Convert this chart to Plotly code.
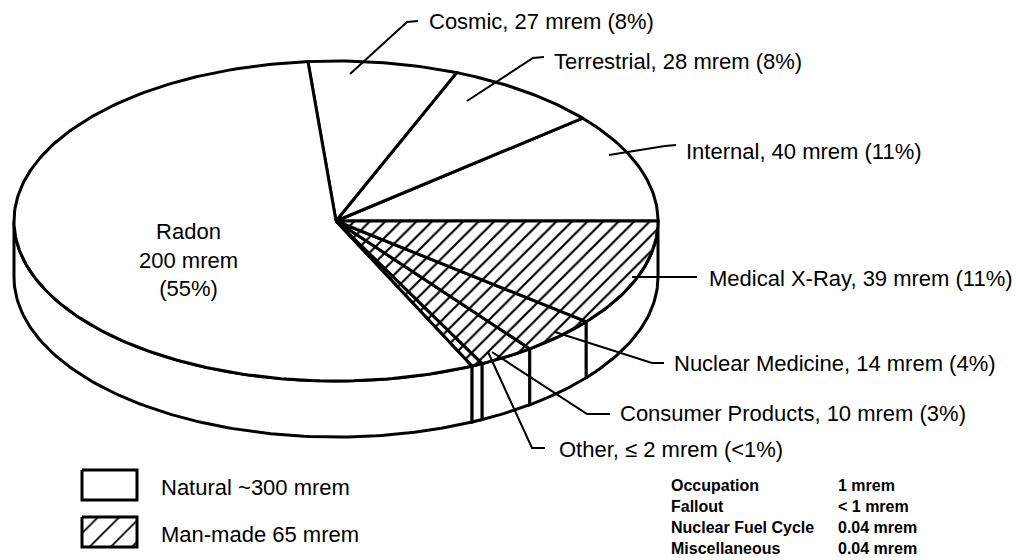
import numpy as np
import plotly.graph_objects as go

# ---------------- data ----------------
sources = ["Internal", "Terrestrial", "Cosmic", "Radon", "Other",
           "Consumer Products", "Nuclear Medicine", "Medical X-Ray"]
doses = [40, 28, 27, 200, 2, 10, 14, 39]          # mrem
origin = ["Natural", "Natural", "Natural", "Natural",
          "Man-made", "Man-made", "Man-made", "Man-made"]
slice_labels = ["Internal, 40 mrem (11%)", "Terrestrial, 28 mrem (8%)",
                "Cosmic, 27 mrem (8%)", "Radon<br>200 mrem<br>(55%)",
                "Other, \u2264 2 mrem (<1%)", "Consumer Products, 10 mrem (3%)",
                "Nuclear Medicine, 14 mrem (4%)", "Medical X-Ray, 39 mrem (11%)"]
legend_labels = ["Natural ~300 mrem", "Man-made 65 mrem"]
minor_sources = ["Occupation", "Fallout", "Nuclear Fuel Cycle", "Miscellaneous"]
minor_doses = ["1 mrem", "< 1 mrem", "0.04 mrem", "0.04 mrem"]

# ---------------- geometry / style ----------------
W, H = 1016, 560
CX, CY, RX, RY, DEPTH = 336, 221, 322, 160, 56
EDGE = 3
FONT = "Liberation Sans, Arial, Helvetica, sans-serif"
HATCH = dict(shape="/", fgcolor="black", bgcolor="white", fgopacity=1,
             fillmode="replace", size=11, solidity=0.2)

total = sum(doses)
ends = np.cumsum(doses) / total * 360.0
starts = ends - np.array(doses) / total * 360.0


def rim(t0, t1, dy=0.0, n=None):
    n = n or max(int(abs(t1 - t0)) + 2, 3)
    t = np.radians(np.linspace(t0, t1, n))
    return CX + RX * np.cos(t), CY - RY * np.sin(t) + dy


fig = go.Figure()

# side walls (front half of the cylinder, t in [180, 360])
for s, e in zip(starts, ends):
    a, b = max(s, 180.0), min(e, 360.0)
    if b <= a:
        continue
    xt, yt = rim(a, b)
    xb, yb = rim(b, a, DEPTH)
    fig.add_trace(go.Scatter(
        x=np.concatenate([xt, xb, xt[:1]]), y=np.concatenate([yt, yb, yt[:1]]),
        mode="lines", fill="toself", fillcolor="white",
        line=dict(color="black", width=EDGE), hoverinfo="skip", showlegend=False))

# top faces
for name, s, e, kind in zip(sources, starts, ends, origin):
    xa, ya = rim(s, e)
    xs = np.concatenate([[CX], xa, [CX]])
    ys = np.concatenate([[CY], ya, [CY]])
    kw = dict(fillpattern=HATCH) if kind == "Man-made" else dict(fillcolor="white")
    fig.add_trace(go.Scatter(
        x=xs, y=ys, mode="lines", fill="toself", name=name,
        line=dict(color="black", width=EDGE), hoverinfo="skip",
        showlegend=False, **kw))

# ---------------- labels with leader lines ----------------
leaders = {
    "Cosmic": ([350, 407, 418], [74, 22, 21], (427, 21)),
    "Terrestrial": ([467, 533, 544], [101, 58, 57], (552, 61)),
    "Internal": ([609, 665, 676], [155, 146, 145], (684, 151)),
    "Medical X-Ray": ([632, 697], [277, 277], (707, 278)),
    "Nuclear Medicine": ([555, 652, 664], [332, 363, 363], (672, 363)),
    "Consumer Products": ([492, 587, 610], [352, 414, 414], (618, 413)),
    "Other": ([488, 532, 545], [352, 448, 448], (557, 449)),
}
for name, text in zip(sources, slice_labels):
    if name in leaders:
        lx, ly, (tx, ty) = leaders[name]
        fig.add_trace(go.Scatter(x=lx, y=ly, mode="lines",
                                 line=dict(color="black", width=2),
                                 hoverinfo="skip", showlegend=False))
        fig.add_annotation(x=tx, y=ty, text=text, showarrow=False,
                           xanchor="left", yanchor="middle",
                           font=dict(family=FONT, size=22, color="black"))
    else:
        fig.add_annotation(x=188, y=260, text=text, showarrow=False,
                           xanchor="center", yanchor="middle", align="center",
                           font=dict(family=FONT, size=22, color="black"))

# ---------------- legend ----------------
legend_y = [485, 532]
for lab, yc, kind in zip(legend_labels, legend_y, ["Natural", "Man-made"]):
    bx = [82, 137, 137, 82, 82]
    by = [yc - 15, yc - 15, yc + 15, yc + 15, yc - 15]
    kw = (dict(fillpattern=dict(shape="/", fgcolor="black", bgcolor="white",
                                fgopacity=1, fillmode="replace",
                                size=15, solidity=0.12))
          if kind == "Man-made" else dict(fillcolor="white"))
    fig.add_trace(go.Scatter(x=bx, y=by, mode="lines", fill="toself",
                             line=dict(color="black", width=EDGE),
                             hoverinfo="skip", showlegend=False, **kw))
    fig.add_annotation(x=159, y=yc + 2, text=lab, showarrow=False,
                       xanchor="left", yanchor="middle",
                       font=dict(family=FONT, size=22, color="black"))

# ---------------- minor man-made table ----------------
for i, (src, d) in enumerate(zip(minor_sources, minor_doses)):
    yy = 485 + i * 21
    fig.add_annotation(x=669, y=yy, text="<b>" + src + "</b>", showarrow=False,
                       xanchor="left", yanchor="middle",
                       font=dict(family=FONT, size=16, color="black"))
    fig.add_annotation(x=836, y=yy, text="<b>" + d + "</b>", showarrow=False,
                       xanchor="left", yanchor="middle",
                       font=dict(family=FONT, size=16, color="black"))

fig.update_layout(
    width=W, height=H, margin=dict(l=0, r=0, t=0, b=0),
    paper_bgcolor="white", plot_bgcolor="white",
    xaxis=dict(range=[0, W], visible=False, fixedrange=True),
    yaxis=dict(range=[H, 0], visible=False, fixedrange=True),
    hovermode=False, showlegend=False,
)

fig.write_html("out.html",
               config={"displayModeBar": False, "staticPlot": True},
               post_script="document.body.style.margin='0';"
                           "document.body.style.overflow='hidden';")
